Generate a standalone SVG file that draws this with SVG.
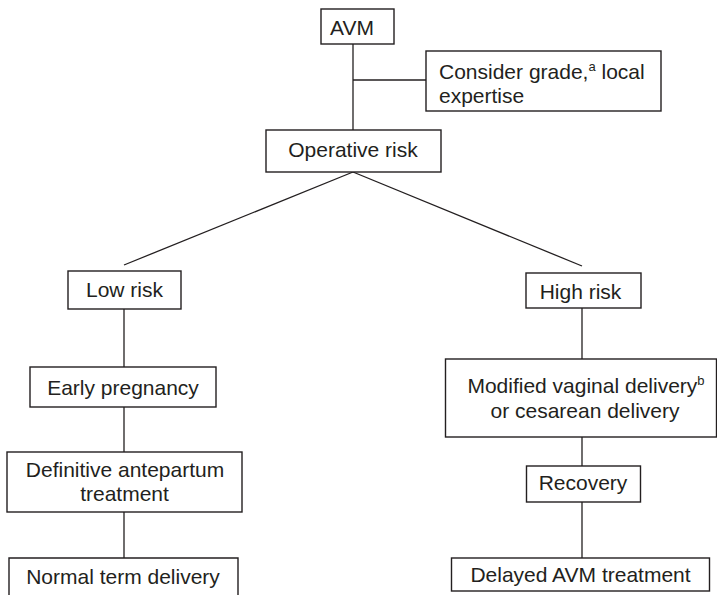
<svg xmlns="http://www.w3.org/2000/svg" width="717" height="595" viewBox="0 0 717 595">
<style>
.box{fill:#fff;stroke:#231f20;stroke-width:1.4}
.ln{stroke:#231f20;stroke-width:1.3;fill:none}
text{font-family:"Liberation Sans",Arial,Helvetica,sans-serif;font-size:21px;fill:#231f20}
.c{text-anchor:middle}
.sup{font-size:13px}
</style>
<rect width="717" height="595" fill="#fff"/>
<g id="connectors">
<line class="ln" x1="353" y1="44" x2="353" y2="130"/>
<line class="ln" x1="353" y1="80" x2="426" y2="80"/>
<line class="ln" x1="353" y1="172" x2="124" y2="265"/>
<line class="ln" x1="353" y1="172" x2="582" y2="266"/>
<line class="ln" x1="124" y1="309" x2="124" y2="367"/>
<line class="ln" x1="124" y1="407" x2="124" y2="452"/>
<line class="ln" x1="124" y1="512" x2="124" y2="558"/>
<line class="ln" x1="582" y1="308" x2="582" y2="359"/>
<line class="ln" x1="582" y1="437" x2="582" y2="466"/>
<line class="ln" x1="582" y1="502" x2="582" y2="558"/>
</g>
<g id="avm">
<rect class="box" x="321" y="9" width="73" height="35"/>
<text x="330" y="35">AVM</text>
</g>
<g id="consider">
<rect class="box" x="426" y="51" width="235" height="60"/>
<text x="439" y="79">Consider grade,<tspan class="sup" dy="-8">a</tspan><tspan dy="8"> local</tspan></text>
<text x="439" y="103">expertise</text>
</g>
<g id="operative">
<rect class="box" x="266" y="130" width="175" height="42"/>
<text class="c" x="353" y="157">Operative risk</text>
</g>
<g id="lowrisk">
<rect class="box" x="68" y="271" width="113" height="38"/>
<text class="c" x="124.5" y="297">Low risk</text>
</g>
<g id="early">
<rect class="box" x="30" y="367" width="186" height="40"/>
<text class="c" x="123" y="395">Early pregnancy</text>
</g>
<g id="definitive">
<rect class="box" x="7" y="452" width="235" height="60"/>
<text class="c" x="125" y="477">Definitive antepartum</text>
<text class="c" x="124.5" y="501">treatment</text>
</g>
<g id="normal">
<path class="box" d="M9,596 V558 H238 V596"/>
<text class="c" x="123" y="584">Normal term delivery</text>
</g>
<g id="highrisk">
<rect class="box" x="526" y="273" width="115" height="35"/>
<text class="c" x="580.5" y="299">High risk</text>
</g>
<g id="modified">
<rect class="box" x="445.5" y="359" width="271" height="78"/>
<text class="c" x="586" y="393">Modified vaginal delivery<tspan class="sup" dy="-8">b</tspan></text>
<text class="c" x="585" y="418">or cesarean delivery</text>
</g>
<g id="recovery">
<rect class="box" x="526.5" y="466" width="114" height="36"/>
<text class="c" x="583" y="490">Recovery</text>
</g>
<g id="delayed">
<rect class="box" x="451.5" y="558" width="258" height="33"/>
<text class="c" x="580.5" y="582">Delayed AVM treatment</text>
</g>
</svg>
